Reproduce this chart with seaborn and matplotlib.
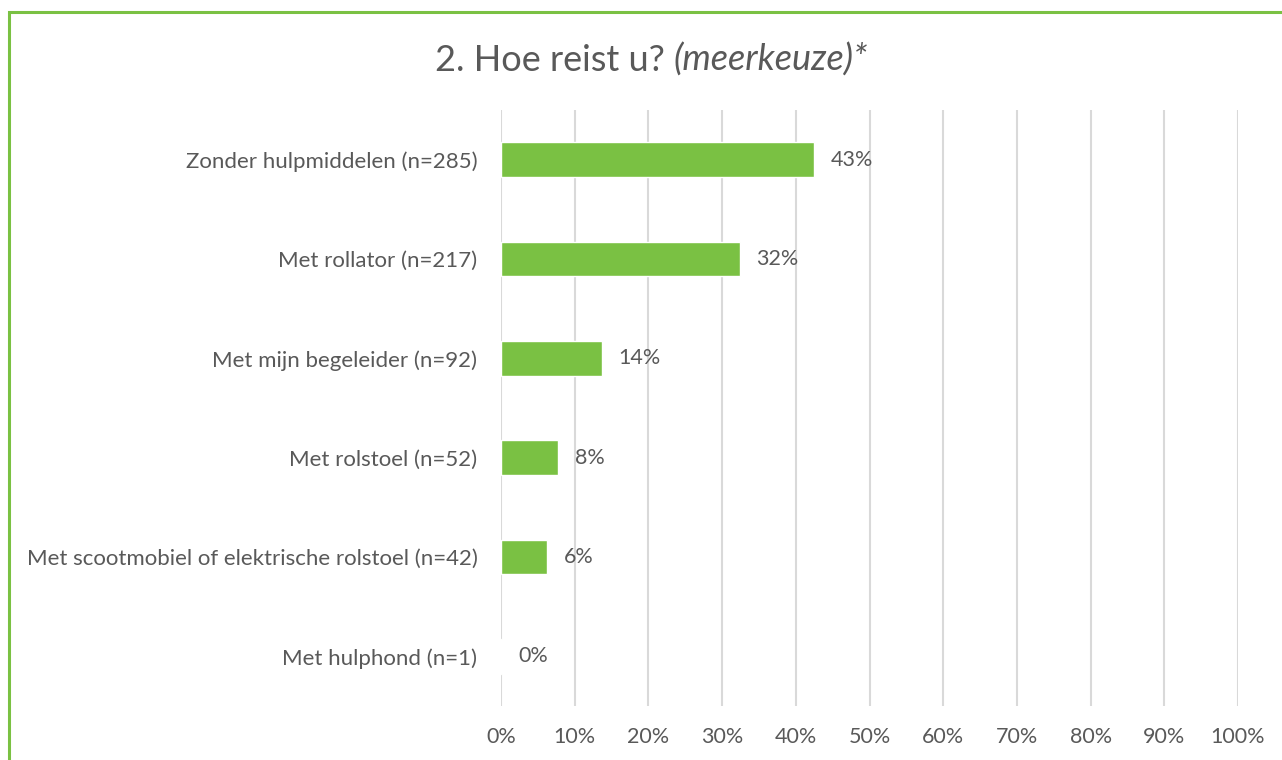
import matplotlib
matplotlib.use("Agg")
import matplotlib.pyplot as plt
import seaborn as sns
import pandas as pd
from matplotlib.patches import Rectangle
from matplotlib.ticker import PercentFormatter

# Data
categories = [
    "Zonder hulpmiddelen (n=285)",
    "Met rollator (n=217)",
    "Met mijn begeleider (n=92)",
    "Met rolstoel (n=52)",
    "Met scootmobiel of elektrische rolstoel (n=42)",
    "Met hulphond (n=1)",
]
percentages = [42.5, 32.4, 13.7, 7.8, 6.3, 0.15]
value_labels = ["43%", "32%", "14%", "8%", "6%", "0%"]
tick_values = list(range(0, 101, 10))

title_main = "2. Hoe reist u? "
title_italic = "(meerkeuze)*"

df = pd.DataFrame({"categorie": categories, "procent": percentages})

green = "#7AC143"
text_grey = "#595959"
grid_grey = "#D9D9D9"

sns.set_theme(style="white")
plt.rcParams["font.family"] = ["Lato", "DejaVu Sans"]

fig = plt.figure(figsize=(12.82, 7.6), dpi=100)
ax = fig.add_axes([0.3908, 0.0711, 0.5749, 0.7842])

sns.barplot(data=df, x="procent", y="categorie", color=green, width=0.35,
            saturation=1, ax=ax, zorder=3)

ax.set_xlim(0, 100)
ax.set_xticks(tick_values)
ax.xaxis.set_major_formatter(PercentFormatter(decimals=0))
ax.grid(axis="x", color=grid_grey, linewidth=1.5, zorder=0)
ax.grid(axis="y", visible=False)
for s in ax.spines.values():
    s.set_visible(False)
ax.set_xlabel("")
ax.set_ylabel("")
ax.tick_params(axis="x", length=0, pad=15, labelsize=15.5, labelcolor=text_grey)
ax.tick_params(axis="y", length=0, pad=17, labelsize=16, labelcolor=text_grey)

# waarde-labels naast de balken
for i, (v, lab) in enumerate(zip(percentages, value_labels)):
    ax.annotate(lab, xy=(v, i), xytext=(12, 0), textcoords="offset points",
                ha="left", va="center", fontsize=15.5, color=text_grey)

# titel: normaal + cursief deel, samen gecentreerd
fig.canvas.draw()
r = fig.canvas.get_renderer()
t1 = fig.text(0, 0.921, title_main, fontsize=26, color=text_grey, va="center")
t2 = fig.text(0, 0.921, title_italic, fontsize=26, color=text_grey,
              style="italic", va="center")
w1 = t1.get_window_extent(r).width / fig.bbox.width
w2 = t2.get_window_extent(r).width / fig.bbox.width
x0 = 651.5 / 1282 - (w1 + w2) / 2
t1.set_x(x0)
t2.set_x(x0 + w1)

# groene rand rond de figuur (rechts/onder buiten beeld)
fig.patches.append(Rectangle((9 / 1282, -0.1), 1.2, 1 - 12 / 760 + 0.1,
                             transform=fig.transFigure, fill=False,
                             edgecolor=green, linewidth=2.2))

fig.savefig("out.png", dpi=100)
